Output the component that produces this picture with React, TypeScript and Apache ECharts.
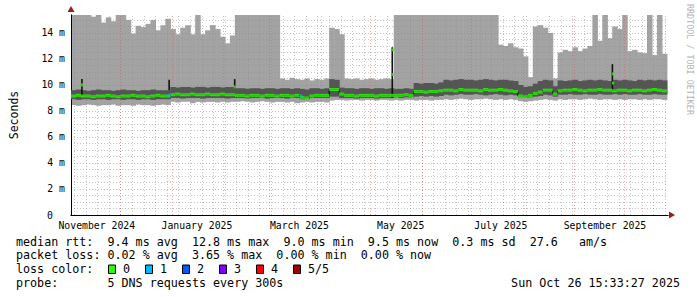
import React, { useEffect, useRef } from 'react';
import * as echarts from 'echarts';

// ---- time frame (days since 1 Nov 2024) ----
const START = Date.UTC(2024, 10, 1);
const SPAN_DAYS = 360.7;
const STEP_DAYS = 3;

// ---- x-axis labels ----
const monthLabels = ['November 2024', 'January 2025', 'March 2025', 'May 2025', 'July 2025', 'September 2025'];
const monthLabelDays = [15.6, 76.1, 138.0, 199.2, 259.7, 322.6];

// ---- smoke: outer pings (light gray) ----
const topLight = [
  15.5, 15.5, 15.5, 15.5, 15.25, 15.5, 14.8, 15.2, 14.9, 15.5,
  15.5, 15.0, 13.95, 14.55, 14.45, 14.7, 15.0, 14.2, 14.6, 15.1,
  14.3, 13.9, 14.4, 14.6, 13.9, 15.5, 13.9, 14.2, 14.6, 14.3,
  13.7, 13.2, 13.8, 15.5, 15.5, 15.5, 15.5, 15.5, 15.5, 15.5,
  15.5, 15.5, 10.5, 10.4, 10.55, 10.45, 10.4, 10.5, 10.35, 10.45,
  10.4, 10.5, 14.4, 14.3, 13.9, 10.5, 10.45, 10.5, 10.4, 10.45,
  10.5, 10.4, 10.45, 10.5, 10.45, 15.5, 15.5, 15.5, 15.5, 15.5,
  15.5, 15.5, 15.5, 15.5, 15.5, 15.5, 15.5, 15.5, 15.5, 15.5,
  15.5, 15.5, 15.5, 15.5, 15.5, 15.5, 13.1, 13.0, 13.2, 12.9,
  12.8, 12.2, 10.6, 14.5, 14.6, 14.4, 14.0, 10.5, 12.5, 12.7,
  12.6, 12.9, 12.6, 12.8, 13.0, 15.5, 13.4, 15.5, 13.6, 14.5,
  14.3, 15.5, 12.6, 12.7, 12.5, 12.45, 15.5, 12.3, 15.5, 12.4,
];
const lowLight = [
  8.45, 8.4, 8.45, 8.5, 8.45, 8.4, 8.45, 8.45, 8.5, 8.4,
  8.45, 8.45, 8.4, 8.5, 8.45, 8.45, 8.4, 8.45, 8.5, 8.45,
  8.7, 8.65, 8.7, 8.7, 8.6, 8.7, 8.65, 8.7, 8.7, 8.65,
  8.7, 8.65, 8.7, 8.7, 8.75, 8.7, 8.65, 8.7, 8.75, 8.7,
  8.65, 8.7, 8.7, 8.65, 8.7, 8.6, 8.65, 8.7, 8.65, 8.7,
  8.7, 8.65, 8.8, 8.85, 8.85, 8.8, 8.85, 8.85, 8.8, 8.85,
  8.85, 8.8, 8.85, 8.85, 8.8, 8.85, 8.8, 8.85, 8.85, 8.8,
  8.85, 8.85, 8.8, 8.85, 8.85, 8.9, 8.85, 8.9, 8.95, 8.9,
  8.85, 8.9, 8.9, 8.95, 8.9, 8.85, 8.9, 8.85, 8.9, 8.85,
  8.75, 8.7, 8.75, 8.8, 8.85, 8.9, 8.85, 8.8, 8.9, 8.85,
  8.9, 8.9, 8.85, 8.9, 8.95, 8.9, 8.85, 8.9, 8.9, 8.85,
  8.9, 8.85, 8.9, 8.9, 8.85, 8.9, 8.85, 8.9, 8.9, 8.85,
];

// ---- smoke: inner pings (dark gray) ----
const darkHigh = [
  9.6, 9.65, 9.6, 9.55, 9.6, 9.65, 9.6, 9.6, 9.55, 9.6,
  9.65, 9.6, 9.6, 9.55, 9.6, 9.6, 9.65, 9.6, 9.6, 9.6,
  9.85, 9.8, 9.85, 9.85, 9.8, 9.85, 9.85, 9.8, 9.85, 9.85,
  9.8, 9.85, 9.85, 9.75, 9.75, 9.7, 9.75, 9.75, 9.7, 9.75,
  9.75, 9.7, 9.75, 9.75, 9.7, 9.75, 9.7, 9.65, 9.75, 9.75,
  9.7, 9.75, 10.45, 10.4, 9.8, 9.75, 9.75, 9.7, 9.75, 9.75,
  9.7, 9.75, 9.75, 9.7, 9.75, 9.7, 9.7, 9.75, 9.7, 10.15,
  10.1, 10.15, 10.15, 10.1, 10.2, 10.4, 10.35, 10.4, 10.45, 10.4,
  10.4, 10.35, 10.4, 10.45, 10.4, 10.35, 10.4, 10.4, 10.35, 10.3,
  10.0, 9.85, 9.9, 10.1, 10.3, 10.4, 10.35, 9.9, 10.35, 10.3,
  10.35, 10.4, 10.3, 10.35, 10.4, 10.35, 10.4, 10.35, 10.3, 10.4,
  10.35, 10.4, 10.35, 10.3, 10.4, 10.35, 10.4, 10.35, 10.4, 10.35,
];
const darkLow = [
  8.9, 8.85, 8.9, 8.9, 8.85, 8.9, 8.9, 8.85, 8.9, 8.9,
  8.85, 8.9, 8.9, 8.85, 8.9, 8.9, 8.85, 8.9, 8.9, 8.9,
  9.0, 9.0, 8.95, 9.0, 9.0, 9.0, 8.95, 9.0, 9.0, 9.0,
  9.0, 8.95, 9.0, 9.0, 9.0, 8.95, 9.0, 9.0, 9.0, 8.95,
  9.0, 9.0, 9.0, 8.95, 9.0, 9.0, 8.9, 8.9, 9.0, 9.0,
  9.0, 9.0, 9.1, 9.1, 9.0, 9.0, 9.0, 8.95, 9.0, 9.0,
  9.0, 8.95, 9.0, 9.0, 9.0, 9.05, 9.0, 9.05, 9.05, 9.1,
  9.15, 9.1, 9.15, 9.1, 9.15, 9.25, 9.2, 9.25, 9.3, 9.25,
  9.25, 9.3, 9.25, 9.2, 9.25, 9.3, 9.25, 9.2, 9.25, 9.2,
  9.05, 9.0, 9.05, 9.1, 9.15, 9.25, 9.2, 9.1, 9.25, 9.25,
  9.3, 9.25, 9.25, 9.3, 9.25, 9.25, 9.3, 9.25, 9.25, 9.3,
  9.25, 9.3, 9.25, 9.25, 9.3, 9.25, 9.25, 9.3, 9.25, 9.25,
];

// ---- median rtt ----
const median = [
  9.15, 9.2, 9.15, 9.15, 9.1, 9.15, 9.15, 9.2, 9.15, 9.1,
  9.15, 9.15, 9.2, 9.15, 9.15, 9.1, 9.15, 9.2, 9.15, 9.15,
  9.25, 9.3, 9.25, 9.25, 9.3, 9.25, 9.25, 9.3, 9.25, 9.25,
  9.3, 9.25, 9.25, 9.2, 9.2, 9.15, 9.2, 9.2, 9.15, 9.2,
  9.2, 9.15, 9.2, 9.2, 9.15, 9.2, 9.05, 9.0, 9.15, 9.2,
  9.2, 9.2, 9.65, 9.65, 9.3, 9.2, 9.2, 9.15, 9.2, 9.2,
  9.2, 9.15, 9.2, 9.2, 9.2, 9.2, 9.2, 9.25, 9.2, 9.5,
  9.5, 9.45, 9.5, 9.5, 9.55, 9.6, 9.6, 9.55, 9.65, 9.6,
  9.6, 9.6, 9.55, 9.65, 9.6, 9.6, 9.65, 9.6, 9.55, 9.5,
  9.15, 9.1, 9.2, 9.35, 9.45, 9.6, 9.6, 9.3, 9.55, 9.6,
  9.6, 9.65, 9.6, 9.55, 9.6, 9.6, 9.65, 9.6, 9.6, 9.55,
  9.6, 9.6, 9.55, 9.6, 9.6, 9.55, 9.6, 9.65, 9.6, 9.55,
];

// ---- short-lived peaks: [day, low, high] and median dots [day, value, lossLevel] ----
const spikeLines = [
  [6.6, 9.15, 10.45],
  [59.3, 9.6, 10.4],
  [98.9, 9.75, 10.45],
  [194.1, 9.0, 12.9],
  [327.1, 9.6, 11.6],
];
const spikeDots = [
  [6.6, 10.0, 0],
  [59.3, 9.2, 1],
  [98.9, 9.85, 0],
  [139.0, 9.15, 1],
  [194.5, 12.7, 0],
  [194.5, 10.8, 0],
  [327.5, 10.85, 0],
  [327.5, 10.15, 0],
];

// ---- legend ----
const lossColors = ['#26ff00', '#00b8ff', '#0059ff', '#7e00ff', '#ff0000', '#a10000'];
const lossLabels = ['0', '1', '2', '3', '4', '5/5'];
const legendLines = [
  'median rtt:  9.4 ms avg  12.8 ms max  9.0 ms min  9.5 ms now  0.3 ms sd  27.6   am/s',
  'packet loss: 0.02 % avg  3.65 % max  0.00 % min  0.00 % now',
  'loss color:',
  'probe:       5 DNS requests every 300s',
];
const stampText = 'Sun Oct 26 15:33:27 2025';
const watermark = 'RRDTOOL / TOBI OETIKER';

const MONO = '"DejaVu Sans Mono", monospace';

function stepData(values: number[]) {
  const pts: number[][] = values.map((v, i) => [i * STEP_DAYS, v]);
  pts.push([values.length * STEP_DAYS, values[values.length - 1]]);
  return pts;
}

function bandData(lows: number[], highs: number[]) {
  return lows.map((lo, i) => [i * STEP_DAYS, lo, highs[i]]);
}

function bandRenderer(color: string) {
  return (params: any, api: any) => {
    const x0 = api.value(0);
    const lo = api.value(1);
    const hi = api.value(2);
    const a = api.coord([x0, hi]);
    const b = api.coord([x0 + STEP_DAYS, lo]);
    const cs = params.coordSys;
    const shape = echarts.graphic.clipRectByRect(
      { x: a[0], y: a[1], width: b[0] - a[0] + 0.6, height: b[1] - a[1] },
      { x: cs.x, y: cs.y, width: cs.width, height: cs.height }
    );
    if (!shape) return null;
    return { type: 'rect', shape, style: { fill: color } };
  };
}

function buildOption() {
  const dayOf = (y: number, m: number, d: number) => (Date.UTC(y, m, d) - START) / 86400000;
  const monthStarts: number[] = [];
  for (let k = 1; k <= 11; k++) monthStarts.push(dayOf(2024, 10 + k, 1));
  const weekLines: number[] = [];
  for (let d = dayOf(2024, 10, 3); d <= SPAN_DAYS; d += 7) weekLines.push(d);
  const yMajor: number[] = [];
  const yMinor: number[] = [];
  for (let v = 0.5; v <= 15.01; v += 0.5) {
    if (Math.abs(v / 2 - Math.round(v / 2)) < 1e-6) yMajor.push(v);
    else yMinor.push(v);
  }
  const minorStyle = { color: 'rgba(140,140,140,0.5)', type: [1, 2] as any, width: 1 };
  const majorStyle = { color: 'rgba(225,90,90,0.5)', type: [1, 2] as any, width: 1 };
  const gridLines: any[] = [
    ...weekLines.map((d) => ({ xAxis: d, lineStyle: minorStyle })),
    ...yMinor.map((v) => ({ yAxis: v, lineStyle: minorStyle })),
    ...monthStarts.map((d) => ({ xAxis: d, lineStyle: majorStyle })),
    ...yMajor.map((v) => ({ yAxis: v, lineStyle: majorStyle })),
  ];

  const medianRects = median.map((v, i) => ({
    value: [i * STEP_DAYS + STEP_DAYS / 2, v],
    itemStyle: { color: lossColors[0] },
  }));
  const dotRects = spikeDots.map((p) => ({
    value: [p[0], p[1]],
    itemStyle: { color: lossColors[p[2]] },
  }));

  return {
    animation: false,
    backgroundColor: '#ffffff',
    grid: { left: 66, top: 15, width: 602, height: 200, containLabel: false },
    xAxis: [
      {
        type: 'value',
        min: 0,
        max: SPAN_DAYS,
        z: 3,
        axisLine: { show: true, onZero: false, lineStyle: { color: '#000', width: 1 } },
        axisTick: { show: false },
        splitLine: { show: false },
        axisLabel: {
          customValues: monthLabelDays,
          formatter: (v: number) => {
            let best = 0;
            monthLabelDays.forEach((d, i) => {
              if (Math.abs(d - v) < Math.abs(monthLabelDays[best] - v)) best = i;
            });
            return monthLabels[best];
          },
          margin: 5,
          color: '#000',
          fontFamily: MONO,
          fontSize: 9.8,
        },
      },
      {
        type: 'value',
        min: 0,
        max: SPAN_DAYS,
        position: 'bottom',
        z: 1,
        axisLine: {
          show: true,
          onZero: false,
          symbol: ['none', 'triangle'],
          symbolSize: [7, 6],
          symbolOffset: [0, 4],
          lineStyle: { color: '#9b1c1c', width: 1 },
        },
        axisTick: { show: false },
        axisLabel: { show: false },
        splitLine: { show: false },
      },
    ],
    yAxis: [
      {
        type: 'value',
        min: 0,
        max: 15.38,
        interval: 2,
        z: 3,
        name: 'Seconds',
        nameLocation: 'middle',
        nameRotate: 90,
        nameGap: 51,
        nameTextStyle: { fontFamily: MONO, fontSize: 11.5, color: '#000' },
        axisLine: { show: true, lineStyle: { color: '#000', width: 1 } },
        axisTick: { show: false },
        splitLine: { show: false },
        axisLabel: {
          showMaxLabel: false,
          margin: 6,
          color: '#000',
          fontFamily: MONO,
          fontSize: 9.8,
          formatter: (v: number) => (v === 0 ? '{z|0}' : `${v} m`),
          rich: { z: { fontFamily: MONO, fontSize: 9.8, color: '#000', padding: [0, 12, 0, 0] } },
        },
      },
      {
        type: 'value',
        min: 0,
        max: 15.38,
        position: 'left',
        z: 1,
        axisLine: {
          show: true,
          symbol: ['none', 'triangle'],
          symbolSize: [7, 6],
          symbolOffset: [0, 6],
          lineStyle: { color: '#9b1c1c', width: 1 },
        },
        axisTick: { show: false },
        axisLabel: { show: false },
        splitLine: { show: false },
      },
    ],
    series: [
      {
        name: 'light',
        type: 'custom',
        z: 1,
        data: bandData(lowLight, topLight),
        encode: { x: 0, y: [1, 2] },
        renderItem: bandRenderer('#a3a3a3'),
        markLine: {
          silent: true,
          symbol: ['none', 'none'],
          label: { show: false },
          z: 3,
          animation: false,
          data: gridLines,
        },
      },
      {
        name: 'dark',
        type: 'custom',
        z: 6,
        data: bandData(darkLow, darkHigh),
        encode: { x: 0, y: [1, 2] },
        renderItem: bandRenderer('#555555'),
      },
      {
        name: 'medianLine',
        type: 'line',
        step: 'end',
        data: stepData(median),
        z: 7,
        symbol: 'none',
        lineStyle: { color: '#000', width: 1 },
      },
      {
        name: 'spikes',
        type: 'custom',
        z: 7,
        data: spikeLines,
        encode: { x: 0, y: [1, 2] },
        renderItem: (_p: any, api: any) => {
          const a = api.coord([api.value(0), api.value(1)]);
          const b = api.coord([api.value(0), api.value(2)]);
          return {
            type: 'line',
            shape: { x1: a[0], y1: a[1], x2: b[0], y2: b[1] },
            style: { stroke: '#111', lineWidth: 1.6 },
          };
        },
      },
      {
        name: 'median',
        type: 'scatter',
        z: 8,
        symbol: 'rect',
        symbolSize: [5.1, 3],
        data: medianRects,
      },
      {
        name: 'medianDots',
        type: 'scatter',
        z: 9,
        symbol: 'rect',
        symbolSize: [2.2, 3],
        data: dotRects,
      },
    ],
    graphic: [
      ...legendLines.map((t, i) => ({
        type: 'text',
        x: 16,
        y: 241.7 + i * 13.7,
        style: { text: t, font: `11.7px ${MONO}`, fill: '#000', textVerticalAlign: 'middle', textAlign: 'left' },
      })),
      ...lossColors.map((c, k) => ({
        type: 'rect',
        shape: { x: 108.5 + k * 37, y: 265, width: 7, height: 8.5 },
        style: { fill: c, stroke: '#000', lineWidth: 1 },
      })),
      ...lossLabels.map((t, k) => ({
        type: 'text',
        x: 123 + k * 37,
        y: 269.3,
        style: { text: t, font: `11.7px ${MONO}`, fill: '#000', textVerticalAlign: 'middle', textAlign: 'left' },
      })),
      {
        type: 'text',
        x: 680,
        y: 282.7,
        style: { text: stampText, font: `11.7px ${MONO}`, fill: '#000', textVerticalAlign: 'middle', textAlign: 'right' },
      },
      {
        type: 'text',
        x: 690,
        y: 4,
        rotation: -Math.PI / 2,
        style: { text: watermark, font: `8.4px ${MONO}`, fill: '#b4b4b4', textVerticalAlign: 'middle', textAlign: 'left' },
      },
    ],
  };
}

export default function App() {
  const ref = useRef<HTMLDivElement | null>(null);
  useEffect(() => {
    document.body.style.margin = '0';
    if (!ref.current) return;
    const chart = echarts.init(ref.current, undefined, { renderer: 'svg' });
    chart.setOption(buildOption() as any);
    return () => chart.dispose();
  }, []);
  return <div ref={ref} style={{ width: 697, height: 297, background: '#fff' }} />;
}
